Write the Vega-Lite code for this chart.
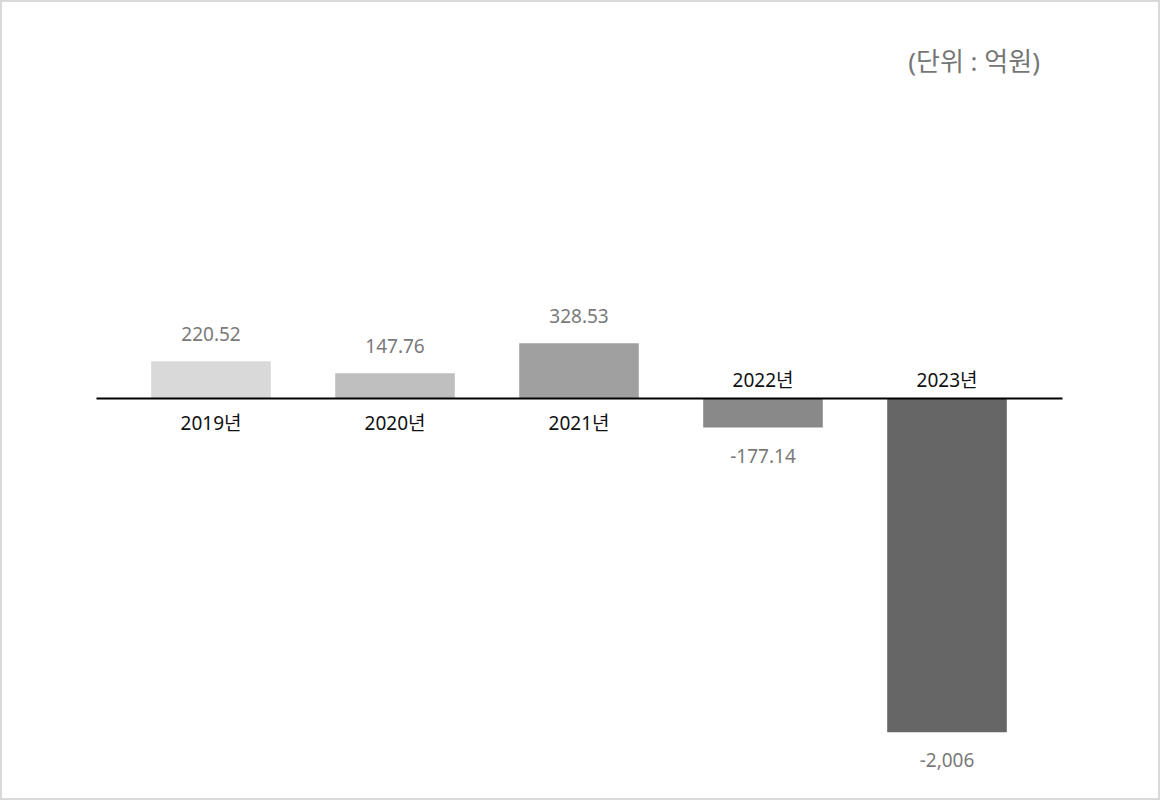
{
  "$schema": "https://vega.github.io/schema/vega-lite/v6.json",
  "width": 1160,
  "height": 800,
  "autosize": {"type": "none"},
  "padding": 0,
  "background": "white",
  "config": {
    "view": {"stroke": "#d9d9d9", "strokeWidth": 4},
    "font": "Noto Sans, Noto Sans CJK KR",
    "text": {"font": "Noto Sans, Noto Sans CJK KR"}
  },
  "title": {
    "text": "(단위 : 억원)",
    "anchor": "end",
    "frame": "group",
    "orient": "top",
    "offset": -97,
    "baseline": "alphabetic",
    "dx": -120,
    "fontSize": 26,
    "fontWeight": "normal",
    "color": "#767676",
    "font": "Noto Sans, Noto Sans CJK KR"
  },
  "data": {
    "values": [
      {"year": "2019년", "value": 220.52, "label": "220.52"},
      {"year": "2020년", "value": 147.76, "label": "147.76"},
      {"year": "2021년", "value": 328.53, "label": "328.53"},
      {"year": "2022년", "value": -177.14, "label": "-177.14"},
      {"year": "2023년", "value": -2006, "label": "-2,006"}
    ]
  },
  "encoding": {
    "x": {
      "field": "year",
      "type": "nominal",
      "sort": null,
      "scale": {"range": [96, 1062], "paddingInner": 0.35, "paddingOuter": 0.3},
      "axis": {
        "orient": "bottom",
        "offset": -402,
        "labels": false,
        "ticks": false,
        "domain": true,
        "domainColor": "#000000",
        "domainWidth": 2,
        "title": null,
        "grid": false,
        "zindex": 1
      }
    }
  },
  "layer": [
    {
      "mark": {"type": "bar"},
      "encoding": {
        "y": {
          "field": "value",
          "type": "quantitative",
          "scale": {"domain": [-2412, 2388], "nice": false, "zero": true},
          "axis": null
        },
        "color": {
          "field": "year",
          "type": "nominal",
          "scale": {
            "domain": ["2019년", "2020년", "2021년", "2022년", "2023년"],
            "range": ["#d9d9d9", "#bfbfbf", "#a0a0a0", "#898989", "#666666"]
          },
          "legend": null
        }
      }
    },
    {
      "transform": [{"filter": "datum.value > 0"}],
      "mark": {"type": "text", "baseline": "alphabetic", "dy": -20, "fontSize": 19, "color": "#7a7a7a"},
      "encoding": {
        "y": {"field": "value", "type": "quantitative"},
        "text": {"field": "label"}
      }
    },
    {
      "transform": [{"filter": "datum.value < 0"}],
      "mark": {"type": "text", "baseline": "alphabetic", "dy": 35, "fontSize": 19, "color": "#7a7a7a"},
      "encoding": {
        "y": {"field": "value", "type": "quantitative"},
        "text": {"field": "label"}
      }
    },
    {
      "transform": [{"filter": "datum.value > 0"}],
      "mark": {"type": "text", "baseline": "alphabetic", "dy": 32, "fontSize": 19, "color": "#111111"},
      "encoding": {
        "y": {"datum": 0},
        "text": {"field": "year"}
      }
    },
    {
      "transform": [{"filter": "datum.value < 0"}],
      "mark": {"type": "text", "baseline": "alphabetic", "dy": -11, "fontSize": 19, "color": "#111111"},
      "encoding": {
        "y": {"datum": 0},
        "text": {"field": "year"}
      }
    }
  ]
}
